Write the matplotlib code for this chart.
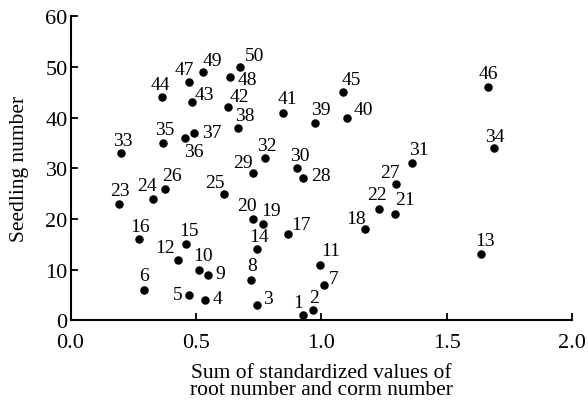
import numpy as np
import matplotlib.pyplot as plt

plt.rcParams['font.family'] = ['Liberation Serif', 'DejaVu Serif']
plt.rcParams['font.size'] = 14

# seedling number (1..50) and the x value read for each
seedling = np.arange(1, 51)
x_sum = [0.927, 0.967, 0.742, 0.535, 0.471, 0.293, 1.009, 0.719, 0.548, 0.513,
         0.995, 0.427, 1.638, 0.742, 0.461, 0.272, 0.869, 1.176, 0.767, 0.726,
         1.296, 1.230, 0.192, 0.329, 0.613, 0.378, 1.300, 0.926, 0.726, 0.905,
         1.361, 0.776, 0.200, 1.687, 0.370, 0.456, 0.492, 0.669, 0.975, 1.104,
         0.849, 0.629, 0.484, 0.365, 1.088, 1.666, 0.471, 0.638, 0.528, 0.677]

# label offsets in pixels (dx, dy), dy positive = up
offs = {1: (-5, 13), 2: (1, 13), 3: (11, 7), 4: (13, 2), 5: (-11, 0), 6: (0, 14),
        7: (10, 6), 8: (1, 14), 9: (12, 1), 10: (4, 14), 11: (11, 14), 12: (-12, 12),
        13: (4, 14), 14: (2, 13), 15: (3, 14), 16: (1, 13), 17: (13, 10), 18: (-9, 11),
        19: (8, 14), 20: (-6, 13), 21: (10, 14), 22: (-2, 14), 23: (1, 13), 24: (-6, 13),
        25: (-9, 11), 26: (7, 13), 27: (-7, 11), 28: (18, 3), 29: (-10, 11), 30: (2, 13),
        31: (7, 14), 32: (2, 13), 33: (2, 13), 34: (1, 12), 35: (1, 13), 36: (9, -14),
        37: (18, 0), 38: (7, 12), 39: (6, 13), 40: (16, 8), 41: (4, 14), 42: (11, 11),
        43: (13, 8), 44: (-2, 13), 45: (8, 13), 46: (0, 14), 47: (-4, 13), 48: (17, -2),
        49: (9, 12), 50: (14, 11)}

fig = plt.figure(figsize=(5.88, 4.02), dpi=100)
ax = fig.add_axes([0.1199, 0.2007, 0.8529, 0.7563])

ax.scatter(x_sum, seedling, s=26, color='black', zorder=3, clip_on=False)
for xv, yv in zip(x_sum, seedling):
    dx, dy = offs[yv]
    ax.annotate(str(yv), (xv, yv), xytext=(dx, dy), textcoords='offset pixels',
                ha='center', va='center', fontsize=14)

ax.set_xlim(0, 2.0)
ax.set_ylim(0, 60)
ax.set_xticks([0.0, 0.5, 1.0, 1.5, 2.0])
ax.set_xticklabels(['0.0', '0.5', '1.0', '1.5', '2.0'])
ax.set_yticks([0, 10, 20, 30, 40, 50, 60])
ax.spines['top'].set_visible(False)
ax.spines['right'].set_visible(False)
ax.spines['left'].set_linewidth(1.5)
ax.spines['bottom'].set_linewidth(1.5)
ax.tick_params(direction='in', length=5, width=1.3, labelsize=16)
ax.tick_params(axis='y', pad=2)
ax.tick_params(axis='x', pad=9)
ax.set_xlabel('Sum of standardized values of\nroot number and corm number',
              fontsize=15.5, linespacing=0.85, labelpad=8)
ax.set_ylabel('Seedling number', fontsize=15.5, labelpad=12)

plt.savefig('out.png', dpi=100)
